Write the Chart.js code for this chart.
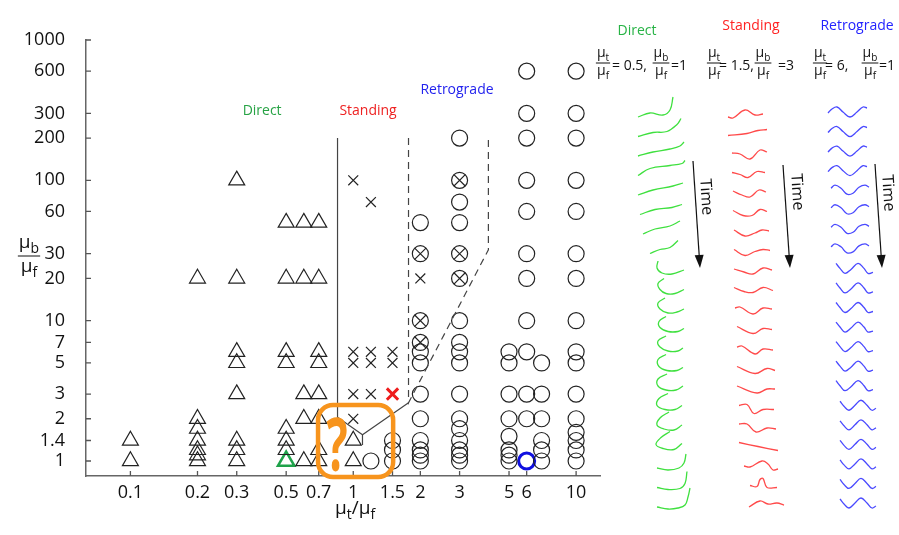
<!DOCTYPE html>
<html>
<head>
<meta charset="utf-8">
<script src="https://cdn.jsdelivr.net/npm/chart.js@4.4.1/dist/chart.umd.min.js"></script>
<style>
  html, body { margin: 0; padding: 0; background: #fff; }
  #wrap { position: relative; width: 899px; height: 535px; }
  #main { position: absolute; left: 0; top: 0; }
  #waves { position: absolute; left: 600px; top: 85px; }
</style>
</head>
<body>
<div id="wrap">
  <canvas id="main" width="899" height="535"></canvas>
  <canvas id="waves" width="299" height="440"></canvas>
</div>
<script>
// ---- phase diagram data (mu_t/mu_f, mu_b/mu_f) ----
const xTicks = [0.1, 0.2, 0.3, 0.5, 0.7, 1, 1.5, 2, 3, 5, 6, 10];
const yTicks = [1, 1.4, 2, 3, 5, 7, 10, 20, 30, 60, 100, 200, 300, 600, 1000];

// triangles = direct wave
const directPts = [
  [0.1, 1], [0.1, 1.4],
  [0.2, 1], [0.2, 1.1], [0.2, 1.2], [0.2, 1.4], [0.2, 1.7], [0.2, 2], [0.2, 20],
  [0.3, 1], [0.3, 1.2], [0.3, 1.4], [0.3, 3], [0.3, 5], [0.3, 6], [0.3, 20], [0.3, 100],
  [0.5, 1.2], [0.5, 1.4], [0.5, 1.7], [0.5, 5], [0.5, 6], [0.5, 20], [0.5, 50],
  [0.6, 1], [0.6, 2], [0.6, 3], [0.6, 20], [0.6, 50],
  [0.7, 1], [0.7, 1.2], [0.7, 2], [0.7, 3], [0.7, 5], [0.7, 6], [0.7, 20], [0.7, 50],
  [1, 1], [1, 1.4]
];
// crosses = standing wave
const standingPts = [
  [1, 100], [1.2, 70], [1, 6], [1, 5], [1.2, 6], [1.2, 5], [1.5, 6], [1.5, 5],
  [1, 3], [1.2, 3], [1, 2], [2, 20]
];
// circles = retrograde wave
const retroPts = [
  [1.2, 1],
  [1.5, 1], [1.5, 1.2], [1.5, 1.4],
  [2, 1], [2, 1.1], [2, 1.2], [2, 1.4], [2, 2], [2, 3], [2, 5], [2, 6], [2, 50],
  [3, 1], [3, 1.1], [3, 1.2], [3, 1.4], [3, 1.7], [3, 2], [3, 3], [3, 5], [3, 6], [3, 7],
  [3, 10], [3, 50], [3, 70], [3, 200],
  [5, 1], [5, 1.1], [5, 1.2], [5, 1.5], [5, 2], [5, 3], [5, 5], [5, 6],
  [6, 2], [6, 3], [6, 6], [6, 10], [6, 20], [6, 30], [6, 60], [6, 100], [6, 200], [6, 300], [6, 600],
  [7, 1], [7, 1.2], [7, 1.4], [7, 2], [7, 3], [7, 5],
  [10, 1], [10, 1.2], [10, 1.4], [10, 1.6], [10, 2], [10, 3], [10, 5], [10, 6], [10, 10],
  [10, 20], [10, 30], [10, 60], [10, 100], [10, 200], [10, 300], [10, 600]
];
// circled crosses = mixed
const mixedPts = [[2, 30], [2, 10], [2, 7], [3, 100], [3, 30], [3, 20]];
// the three cases shown on the right
const sampleDirect = [[0.5, 1]];
const sampleStanding = [[1.5, 3]];
const sampleRetro = [[6, 1]];

// regime boundaries
const solidEdge = [[0.85, 200], [0.85, 2.05], [1.1, 1.54], [1.77, 2.6]];
const solidStub = [[1.1, 1.54], [1.1, 1.3]];
const dashedEdge = [[1.77, 200], [1.77, 2.6], [4.04, 32], [4.04, 200]];

// ---- wave snapshots: [position along string, displacement] ----
const greenWaves = [
  [[0, 0], [12, -4], [25, -2], [32, -7], [35, -20]],
  [[0, 0], [15, -4], [29, -5], [39, -12], [43, -18]],
  [[0, 0], [15, -4], [32, -7], [42, -10], [46, -14]],
  [[0, 0], [12, -7], [32, -10], [44, -12], [47, -15]],
  [[0, 0], [15, -5], [35, -9], [45, -12]],
  [[2, 0], [17, -5], [34, -7], [44, -10]],
  [[5, 0], [17, -5], [32, -8], [42, -13]],
  [[12, 0], [22, -4], [32, -6], [40, -13]],
  [[20, -12], [19, -5], [24, 0], [34, 1], [46, -3]],
  [[26, -14], [20, -9], [22, -3], [28, 1], [37, 1], [46, -3]],
  [[27, -14], [20, -9], [22, -3], [30, 1], [39, 0], [46, -3]],
  [[28, -15], [21, -10], [22, -4], [30, 0], [40, 0], [46, -3]],
  [[28, -15], [20, -10], [22, -4], [30, 0], [40, 0], [45, -3]],
  [[28, -16], [20, -11], [21, -4], [29, 0], [39, 0], [45, -3]],
  [[29, -16], [20, -11], [20, -4], [28, 0], [38, 0], [45, -4]],
  [[30, -16], [21, -11], [19, -4], [27, 0], [37, 0], [44, -4]],
  [[31, -17], [22, -11], [19, -4], [26, 0], [36, 1], [44, -4]],
  [[32, -17], [23, -11], [18, -4], [25, 0], [36, 1], [44, -5]],
  [[19, 0], [30, 2], [41, 0], [46, -5], [48, -14]],
  [[19, 0], [30, 2], [42, 1], [47, -4], [49, -16]],
  [[19, 0], [30, 2], [40, 1], [47, -2], [50, -10], [52, -19]]
];
const redWaves = [
  [[0, 2], [5, 3], [17, -5], [27, 0], [35, -1]],
  [[0, 1], [19, -1], [30, -4], [39, -5]],
  [[4, -1], [12, 0], [22, 5], [32, -4], [39, -2]],
  [[4, -1], [12, 1], [20, 4], [29, -2], [37, -1]],
  [[5, -2], [14, 2], [22, 4], [31, -3], [38, -1]],
  [[5, -2], [15, 3], [24, 3], [32, -3], [39, -1]],
  [[6, -2], [17, 4], [27, 1], [34, -2], [41, -1]],
  [[6, -2], [17, 4], [27, 0], [35, -2], [42, -1]],
  [[6, -2], [16, 1], [25, 3], [35, -3], [44, -1]],
  [[6, -3], [16, 1], [25, 2], [35, -3], [45, 0]],
  [[7, -2], [12, -3], [25, 4], [35, -2], [44, -1]],
  [[9, -3], [25, 4], [35, -1], [44, 0]],
  [[9, -2], [14, -3], [27, 5], [35, 0], [45, 1]],
  [[9, -2], [27, 5], [39, 0], [47, 2]],
  [[9, -2], [29, 5], [39, 1], [47, 1]],
  [[11, -2], [19, -3], [26, 6], [35, 2], [46, 2]],
  [[11, -3], [19, -3], [28, 5], [39, 1], [48, 2]],
  [[11, -4], [30, 0], [50, 4]],
  [[16, 0], [22, 1], [34, -5], [40, -2], [45, 4], [50, 3]],
  [[22, 0], [29, 1], [32, -6], [35, -7], [39, 2], [49, 2]],
  [[21, 2], [32, -4], [40, -1], [49, -2], [56, 0]]
];
const blueEarly = [[0, 1], [4, -3], [9, -5], [15, 0], [22, 5], [29, 0], [35, -5], [39, -4]];
const blueMid = [[3, -2], [7, -5], [13, -2], [19, 4], [25, 3], [31, -3], [37, -5], [41, -3]];
const blueLate = [[8, -5], [12, 0], [17, 5], [23, 1], [30, -5], [36, 0], [40, 5], [45, 4]];
const blueEnd = [[12, -4], [16, 1], [21, 5], [27, 0], [33, -5], [39, 0], [44, 5], [48, 3]];
const blueWaves = [
  blueEarly, blueEarly, blueEarly, blueEarly, blueMid, blueMid, blueMid, blueMid,
  blueLate, blueLate, blueLate, blueLate, blueLate, blueLate, blueLate,
  blueEnd, blueEnd, blueEnd, blueEnd, blueEnd, blueEnd
];

// ---- main chart ----
Chart.defaults.font.family = "'Open Sans', sans-serif";
Chart.defaults.color = '#111';

const toXY = pts => pts.map(([x, y]) => ({ x, y }));
const ink = '#222';

function drawFrac(ctx, cx, barY, sub1, sub2, size) {
  const big = size + "px 'Open Sans'";
  const small = Math.round(size * 0.72) + "px 'Open Sans'";
  const part = (sub, base) => {
    ctx.font = big; const w1 = ctx.measureText('\u03bc').width;
    ctx.font = small; const w2 = ctx.measureText(sub).width;
    const x0 = cx - (w1 + w2) / 2;
    ctx.font = big; ctx.fillText('\u03bc', x0, base);
    ctx.font = small; ctx.fillText(sub, x0 + w1, base + size * 0.25);
    return w1 + w2;
  };
  ctx.textAlign = 'left'; ctx.textBaseline = 'alphabetic';
  const w = Math.max(part(sub1, barY - size * 0.42), part(sub2, barY + size * 0.86));
  ctx.beginPath();
  ctx.moveTo(cx - w / 2 - 1, barY); ctx.lineTo(cx + w / 2 + 1, barY);
  ctx.lineWidth = 1; ctx.stroke();
}

function drawText(ctx, s, x, y, font, color, align) {
  ctx.font = font; ctx.fillStyle = color; ctx.textAlign = align || 'center';
  ctx.textBaseline = 'middle'; ctx.fillText(s, x, y);
}

function timeArrow(ctx, x1, y1, x2, y2, tx, ty) {
  ctx.strokeStyle = '#111'; ctx.fillStyle = '#111'; ctx.lineWidth = 1.2;
  const a = Math.atan2(y2 - y1, x2 - x1);
  ctx.beginPath(); ctx.moveTo(x1, y1); ctx.lineTo(x2 - 10 * Math.cos(a), y2 - 10 * Math.sin(a)); ctx.stroke();
  ctx.beginPath();
  ctx.moveTo(x2, y2);
  ctx.lineTo(x2 - 13 * Math.cos(a) + 4.5 * Math.sin(a), y2 - 13 * Math.sin(a) - 4.5 * Math.cos(a));
  ctx.lineTo(x2 - 13 * Math.cos(a) - 4.5 * Math.sin(a), y2 - 13 * Math.sin(a) + 4.5 * Math.cos(a));
  ctx.closePath(); ctx.fill();
  ctx.save(); ctx.translate(tx, ty); ctx.rotate(a);
  drawText(ctx, 'Time', 0, 0, "16px 'Open Sans'", '#111');
  ctx.restore();
}

const decor = {
  id: 'decor',
  afterDraw(chart) {
    const { ctx, chartArea: ca } = chart;
    const sx = chart.scales.x, sy = chart.scales.y;
    ctx.save();
    // inner tick marks
    ctx.strokeStyle = '#555'; ctx.lineWidth = 1.3;
    ctx.beginPath();
    sx.ticks.forEach(t => { const p = sx.getPixelForValue(t.value); ctx.moveTo(p, ca.bottom); ctx.lineTo(p, ca.bottom - 5); });
    sy.ticks.forEach(t => { const p = sy.getPixelForValue(t.value); ctx.moveTo(ca.left, p); ctx.lineTo(ca.left + 5, p); });
    ctx.stroke();

    // axis titles
    ctx.fillStyle = '#111'; ctx.strokeStyle = '#111';
    drawFrac(ctx, 29, 256, 'b', 'f', 19);
    ctx.font = "19px 'Open Sans'"; ctx.textBaseline = 'alphabetic'; ctx.textAlign = 'left';
    let xx = 335;
    const piece = (s, f, dy) => { ctx.font = f; ctx.fillText(s, xx, 514 + dy); xx += ctx.measureText(s).width; };
    piece('\u03bc', "19px 'Open Sans'", 0); piece('t', "14px 'Open Sans'", 5);
    piece('/', "19px 'Open Sans'", 0); piece('\u03bc', "19px 'Open Sans'", 0); piece('f', "14px 'Open Sans'", 5);

    // regime labels
    drawText(ctx, 'Direct', sx.getPixelForValue(0.39), sy.getPixelForValue(312), "14px 'Open Sans'", '#27a345');
    drawText(ctx, 'Standing', sx.getPixelForValue(1.165), sy.getPixelForValue(312), "14px 'Open Sans'", '#ee2222');
    drawText(ctx, 'Retrograde', sx.getPixelForValue(2.92), sy.getPixelForValue(440), "14px 'Open Sans'", '#2222ee');

    // highlighted unknown region
    const bx0 = sx.getPixelForValue(0.695), bx1 = sx.getPixelForValue(1.51);
    const by0 = sy.getPixelForValue(2.51), by1 = sy.getPixelForValue(0.77);
    ctx.strokeStyle = '#f7941d'; ctx.lineWidth = 4.5;
    ctx.beginPath(); ctx.roundRect(bx0, by0, bx1 - bx0, by1 - by0, 15); ctx.stroke();
    ctx.save(); ctx.translate(bx0 + 19, by0 + 45); ctx.scale(0.6, 1);
    ctx.font = "bold 74px 'Open Sans'"; ctx.fillStyle = '#f7941d'; ctx.textAlign = 'center'; ctx.textBaseline = 'middle';
    ctx.fillText('?', 0, 0); ctx.restore();

    // right panel headings
    drawText(ctx, 'Direct', 637, 31, "14px 'Open Sans'", '#27b345');
    drawText(ctx, 'Standing', 751, 26, "14px 'Open Sans'", '#ff2222');
    drawText(ctx, 'Retrograde', 857, 26, "14px 'Open Sans'", '#2222ff');
    ctx.fillStyle = '#111'; ctx.strokeStyle = '#111';
    const eqs = [[603, '= 0.5,', 612, 661, '=1', 671], [714, '= 1.5,', 719, 763, '=3', 778], [820, '= 6,', 825, 870, '=1', 879]];
    eqs.forEach(([f1, t1, x1, f2, t2, x2]) => {
      drawFrac(ctx, f1, 63, 't', 'f', 14);
      drawFrac(ctx, f2, 63, 'b', 'f', 14);
      drawText(ctx, t1, x1, 66, "14px 'Open Sans'", '#111', 'left');
      drawText(ctx, t2, x2, 66, "14px 'Open Sans'", '#111', 'left');
    });
    timeArrow(ctx, 693, 161, 700, 268, 706, 197);
    timeArrow(ctx, 783, 165, 790, 268, 797, 192);
    timeArrow(ctx, 875, 164, 882, 268, 888, 193);
    ctx.restore();
  }
};

const markerSet = (pts, style, radius, color, width) => ({
  data: toXY(pts), pointStyle: style, pointRadius: radius, pointHoverRadius: radius,
  borderColor: color, backgroundColor: 'rgba(0,0,0,0)', pointBorderWidth: width, borderWidth: width, showLine: false
});
const lineSet = (pts, dash) => ({
  data: toXY(pts), showLine: true, pointRadius: 0, borderColor: '#444', borderWidth: 1.2,
  borderDash: dash, fill: false, tension: 0
});

new Chart(document.getElementById('main'), {
  type: 'scatter',
  data: {
    datasets: [
      lineSet(solidEdge, []),
      lineSet(solidStub, []),
      lineSet(dashedEdge, [7, 5]),
      markerSet(directPts, 'triangle', 9.2, ink, 1.2),
      markerSet(standingPts, 'crossRot', 7, ink, 1.2),
      markerSet(retroPts, 'circle', 8, ink, 1.2),
      markerSet(mixedPts, 'circle', 8, ink, 1.2),
      markerSet(mixedPts, 'crossRot', 8, ink, 1.2),
      markerSet(sampleDirect, 'triangle', 9.5, '#1fa24a', 2.5),
      markerSet(sampleStanding, 'crossRot', 8, '#ee1c1c', 3),
      markerSet(sampleRetro, 'circle', 8, '#1010e0', 3)
    ]
  },
  options: {
    responsive: false, animation: false,
    layout: { padding: { left: 0, top: 40, right: 299, bottom: 0 } },
    plugins: { legend: { display: false }, tooltip: { enabled: false } },
    scales: {
      x: {
        type: 'logarithmic', min: 0.0632, max: 12.8,
        afterBuildTicks: s => { s.ticks = xTicks.map(v => ({ value: v })); },
        afterFit: s => { s.height = 59; },
        grid: { display: false, drawTicks: false },
        border: { display: true, color: '#666', width: 1.5 },
        ticks: { callback: v => String(v), autoSkip: false, maxRotation: 0, padding: 6, font: { size: 18 }, color: '#111' }
      },
      y: {
        type: 'logarithmic', min: 0.782, max: 1000,
        afterBuildTicks: s => { s.ticks = yTicks.map(v => ({ value: v })); },
        afterFit: s => { s.width = 86; },
        grid: { display: false, drawTicks: false },
        border: { display: true, color: '#666', width: 1.5 },
        ticks: { callback: v => String(v), autoSkip: false, padding: 21, font: { size: 18 }, color: '#111' }
      }
    }
  },
  plugins: [decor]
});

// ---- wave snapshot panel ----
const waveCols = [
  { waves: greenWaves, color: '#3fe03f', left: 38, top: 32, gap: 19.5 },
  { waves: redWaves, color: '#ff4a4a', left: 128, top: 30, gap: 19.5 },
  { waves: blueWaves, color: '#4a4aff', left: 228, top: 27, gap: 19.55 }
];
const waveSets = [];
waveCols.forEach(col => {
  col.waves.forEach((w, i) => {
    waveSets.push({
      data: w.map(([p, d]) => ({ x: col.left + p, y: col.top + i * col.gap + d })),
      showLine: true, pointRadius: 0, borderColor: col.color, borderWidth: 1.3,
      tension: 0.4, fill: false
    });
  });
});
new Chart(document.getElementById('waves'), {
  type: 'scatter',
  data: { datasets: waveSets },
  options: {
    responsive: false, animation: false,
    layout: { padding: 0 },
    plugins: { legend: { display: false }, tooltip: { enabled: false } },
    scales: {
      x: { type: 'linear', min: 0, max: 299, display: false },
      y: { type: 'linear', min: 0, max: 440, reverse: true, display: false }
    }
  }
});
</script>
</body>
</html>
